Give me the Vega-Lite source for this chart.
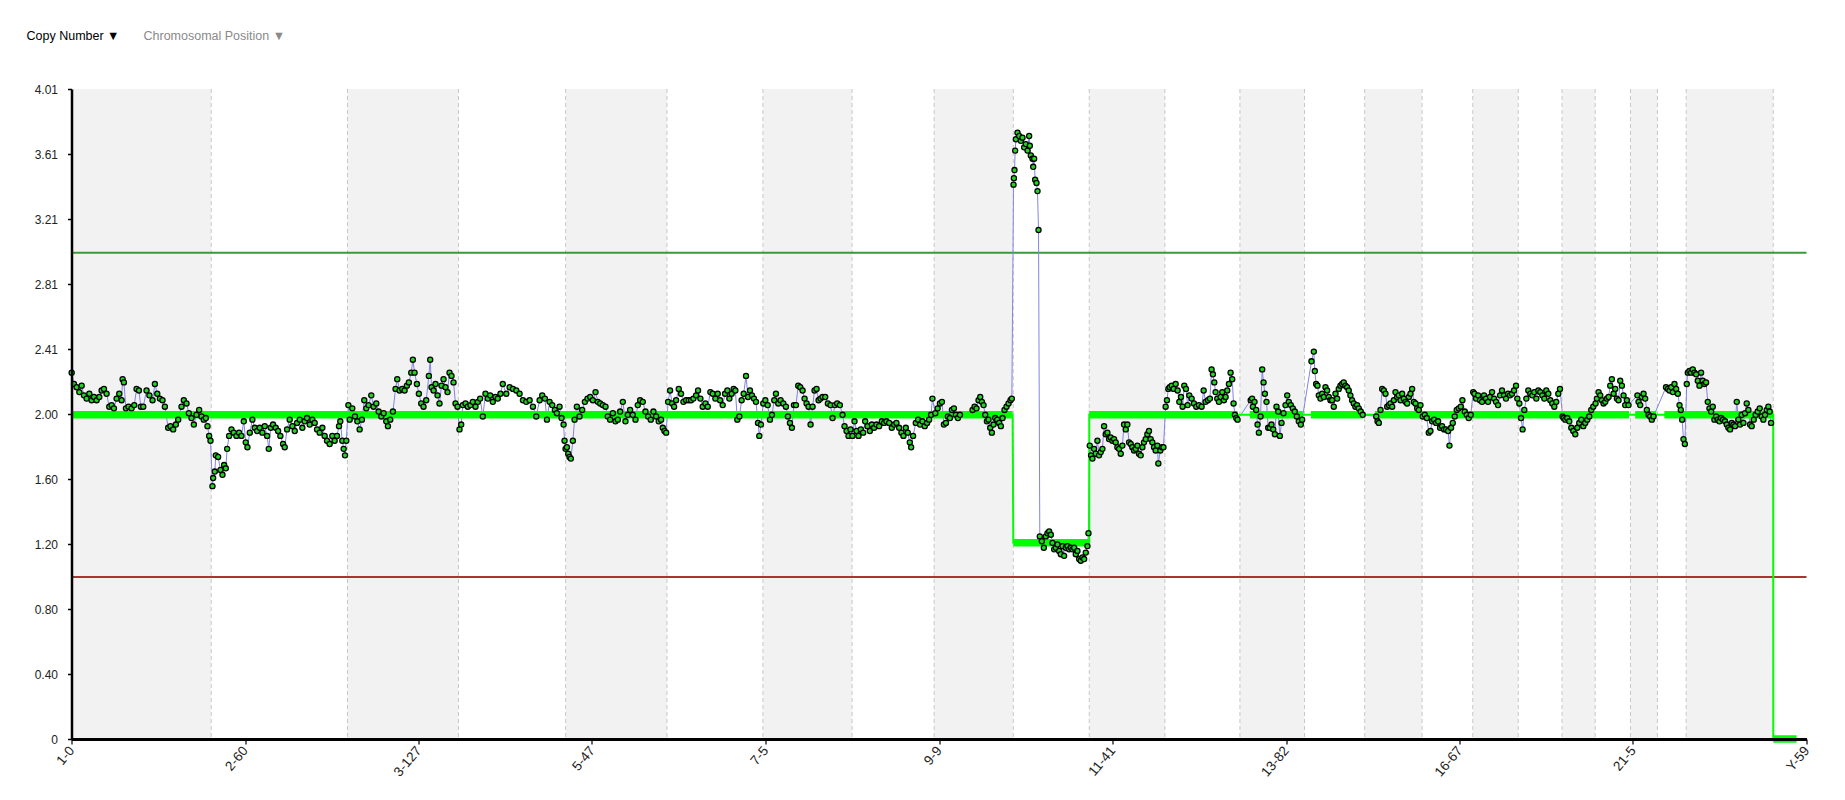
{
"$schema": "https://vega.github.io/schema/vega-lite/v6.json",
"width": 1735, "height": 650,
"autosize": {"type": "none"},
"padding": {"left": 71.5, "top": 89, "right": 38.5, "bottom": 61},
"background": "white",
"config": {"font": "Liberation Sans", "view": {"stroke": null}},
"datasets": {
"chroms": [
{"n":1,"chr":"1","start":0,"end":249.25},{"n":2,"chr":"2","start":249.25,"end":492.45},{"n":3,"chr":"3","start":492.45,"end":690.47},{"n":4,"chr":"4","start":690.47,"end":881.62},{"n":5,"chr":"5","start":881.62,"end":1062.54},{"n":6,"chr":"6","start":1062.54,"end":1233.66},{"n":7,"chr":"7","start":1233.66,"end":1392.8},{"n":8,"chr":"8","start":1392.8,"end":1539.16},{"n":9,"chr":"9","start":1539.16,"end":1680.37},{"n":10,"chr":"10","start":1680.37,"end":1815.9},{"n":11,"chr":"11","start":1815.9,"end":1950.91},{"n":12,"chr":"12","start":1950.91,"end":2084.76},{"n":13,"chr":"13","start":2084.76,"end":2199.93},{"n":14,"chr":"14","start":2199.93,"end":2307.28},{"n":15,"chr":"15","start":2307.28,"end":2409.81},{"n":16,"chr":"16","start":2409.81,"end":2500.16},{"n":17,"chr":"17","start":2500.16,"end":2581.36},{"n":18,"chr":"18","start":2581.36,"end":2659.44},{"n":19,"chr":"19","start":2659.44,"end":2718.57},{"n":20,"chr":"20","start":2718.57,"end":2781.6},{"n":21,"chr":"21","start":2781.6,"end":2829.73},{"n":22,"chr":"22","start":2829.73,"end":2881.03},{"n":23,"chr":"X","start":2881.03,"end":3036.3},{"n":24,"chr":"Y","start":3036.3,"end":3095.67}
],
"thresholds": [{"level":3,"kind":"gain"},{"level":1,"kind":"loss"}],
"segments": [
{"start":0,"end":1679.2,"cn":2.0},{"start":1680.4,"end":1815.9,"cn":1.21},{"start":1815.95,"end":2080.5,"cn":2.0},{"start":2102.5,"end":2197,"cn":2.0},{"start":2211.5,"end":2305,"cn":2.0},{"start":2326,"end":2779,"cn":2.0},{"start":2790,"end":2827.5,"cn":2.0},{"start":2842,"end":3036.3,"cn":2.0},{"start":3036.4,"end":3078,"cn":0}
],
"probes": [
{"pos":0.3,"cn":2.26},{"pos":4.4,"cn":2.19},{"pos":9.2,"cn":2.17},{"pos":14,"cn":2.14},{"pos":18.1,"cn":2.18},{"pos":22.2,"cn":2.12},{"pos":27,"cn":2.10},{"pos":31.8,"cn":2.13},{"pos":35.9,"cn":2.09},{"pos":40.1,"cn":2.11},{"pos":44.8,"cn":2.09},{"pos":49.6,"cn":2.11},{"pos":53.7,"cn":2.15},{"pos":57.9,"cn":2.16},{"pos":62.6,"cn":2.13},{"pos":67.4,"cn":2.05},{"pos":71.6,"cn":2.06},{"pos":75.7,"cn":2.04},{"pos":80.5,"cn":2.10},{"pos":85.2,"cn":2.13},{"pos":89.4,"cn":2.09},{"pos":91.2,"cn":2.22},{"pos":93.5,"cn":2.20},{"pos":97.1,"cn":2.04},{"pos":101.8,"cn":2.05},{"pos":107.2,"cn":2.04},{"pos":112,"cn":2.06},{"pos":116.1,"cn":2.16},{"pos":120.3,"cn":2.15},{"pos":123.8,"cn":2.05},{"pos":128,"cn":2.05},{"pos":133.9,"cn":2.15},{"pos":139,"cn":2.12},{"pos":144.6,"cn":2.09},{"pos":148.8,"cn":2.19},{"pos":153,"cn":2.13},{"pos":157.7,"cn":2.10},{"pos":162.4,"cn":2.09},{"pos":166.6,"cn":2.05},{"pos":172.5,"cn":1.92},{"pos":176.7,"cn":1.93},{"pos":181.4,"cn":1.91},{"pos":186.2,"cn":1.94},{"pos":190.4,"cn":1.97},{"pos":196.3,"cn":2.05},{"pos":200.4,"cn":2.09},{"pos":205.2,"cn":2.07},{"pos":209.4,"cn":2.01},{"pos":214.1,"cn":1.98},{"pos":218.3,"cn":1.94},{"pos":223,"cn":2.00},{"pos":227.8,"cn":2.03},{"pos":232,"cn":1.99},{"pos":236.1,"cn":1.97},{"pos":239.7,"cn":1.98},{"pos":242.6,"cn":1.93},{"pos":245.6,"cn":1.87},{"pos":248,"cn":1.84},
{"pos":251.5,"cn":1.56},{"pos":252.7,"cn":1.61},{"pos":255.7,"cn":1.65},{"pos":257.5,"cn":1.75},{"pos":261.6,"cn":1.74},{"pos":265.8,"cn":1.66},{"pos":269.4,"cn":1.63},{"pos":272.3,"cn":1.69},{"pos":275.3,"cn":1.67},{"pos":277.7,"cn":1.79},{"pos":281.2,"cn":1.87},{"pos":285.4,"cn":1.91},{"pos":289.5,"cn":1.89},{"pos":294.3,"cn":1.87},{"pos":299,"cn":1.89},{"pos":303.2,"cn":1.87},{"pos":307.4,"cn":1.96},{"pos":310.9,"cn":1.83},{"pos":313.9,"cn":1.80},{"pos":318.1,"cn":1.89},{"pos":322.8,"cn":1.97},{"pos":327,"cn":1.92},{"pos":331.1,"cn":1.90},{"pos":335.9,"cn":1.92},{"pos":340.6,"cn":1.89},{"pos":344.8,"cn":1.93},{"pos":349,"cn":1.87},{"pos":352,"cn":1.79},{"pos":355.5,"cn":1.92},{"pos":359.6,"cn":1.94},{"pos":364.4,"cn":1.92},{"pos":368.6,"cn":1.90},{"pos":372.7,"cn":1.87},{"pos":377.5,"cn":1.82},{"pos":380.4,"cn":1.80},{"pos":384.6,"cn":1.91},{"pos":389.3,"cn":1.97},{"pos":394.1,"cn":1.93},{"pos":398.3,"cn":1.90},{"pos":402.4,"cn":1.95},{"pos":407.2,"cn":1.97},{"pos":411.9,"cn":1.92},{"pos":416.1,"cn":1.96},{"pos":420.2,"cn":1.98},{"pos":425,"cn":1.94},{"pos":429.7,"cn":1.97},{"pos":433.9,"cn":1.95},{"pos":438.1,"cn":1.91},{"pos":442.8,"cn":1.89},{"pos":447.6,"cn":1.92},{"pos":451.7,"cn":1.87},{"pos":455.9,"cn":1.84},{"pos":460.6,"cn":1.82},{"pos":465.4,"cn":1.87},{"pos":469.5,"cn":1.84},{"pos":473.7,"cn":1.87},{"pos":477.3,"cn":1.93},{"pos":479.6,"cn":1.96},{"pos":483.2,"cn":1.84},{"pos":485.6,"cn":1.79},{"pos":488,"cn":1.75},{"pos":490.3,"cn":1.84},
{"pos":494,"cn":2.06},{"pos":496.3,"cn":1.97},{"pos":501,"cn":2.04},{"pos":505.8,"cn":1.99},{"pos":510,"cn":1.96},{"pos":514.1,"cn":1.91},{"pos":518.2,"cn":1.97},{"pos":522.4,"cn":2.09},{"pos":526,"cn":2.04},{"pos":530.1,"cn":2.06},{"pos":534.9,"cn":2.12},{"pos":539,"cn":2.05},{"pos":543.8,"cn":2.07},{"pos":548,"cn":2.02},{"pos":552.7,"cn":1.99},{"pos":556.9,"cn":2.01},{"pos":561.6,"cn":1.96},{"pos":564.6,"cn":1.93},{"pos":568.7,"cn":1.97},{"pos":573.5,"cn":2.02},{"pos":578.2,"cn":2.16},{"pos":581.2,"cn":2.22},{"pos":585.4,"cn":2.15},{"pos":590.1,"cn":2.16},{"pos":594.3,"cn":2.15},{"pos":598.4,"cn":2.18},{"pos":602,"cn":2.20},{"pos":606.2,"cn":2.26},{"pos":609.1,"cn":2.34},{"pos":612.1,"cn":2.26},{"pos":616.3,"cn":2.19},{"pos":619.8,"cn":2.13},{"pos":624,"cn":2.07},{"pos":628.1,"cn":2.05},{"pos":632.9,"cn":2.09},{"pos":637.6,"cn":2.24},{"pos":640,"cn":2.34},{"pos":642.4,"cn":2.17},{"pos":646,"cn":2.15},{"pos":649.5,"cn":2.19},{"pos":653.1,"cn":2.12},{"pos":656.6,"cn":2.07},{"pos":660.2,"cn":2.18},{"pos":663.8,"cn":2.22},{"pos":667.3,"cn":2.17},{"pos":670.9,"cn":2.14},{"pos":674.5,"cn":2.26},{"pos":678,"cn":2.24},{"pos":681.6,"cn":2.20},{"pos":685.2,"cn":2.07},{"pos":688.7,"cn":2.05},
{"pos":692.3,"cn":1.91},{"pos":695.3,"cn":1.94},{"pos":698.2,"cn":2.06},{"pos":703,"cn":2.07},{"pos":707.1,"cn":2.05},{"pos":711.9,"cn":2.06},{"pos":716,"cn":2.08},{"pos":720.8,"cn":2.05},{"pos":725,"cn":2.08},{"pos":729.1,"cn":2.10},{"pos":733.9,"cn":1.99},{"pos":738.6,"cn":2.13},{"pos":742.8,"cn":2.10},{"pos":747,"cn":2.12},{"pos":751.7,"cn":2.08},{"pos":756.4,"cn":2.11},{"pos":760.6,"cn":2.10},{"pos":765.4,"cn":2.13},{"pos":769.5,"cn":2.19},{"pos":775.8,"cn":2.13},{"pos":781.7,"cn":2.17},{"pos":787.7,"cn":2.16},{"pos":793.6,"cn":2.15},{"pos":799.5,"cn":2.13},{"pos":805.5,"cn":2.09},{"pos":811.4,"cn":2.08},{"pos":817.4,"cn":2.09},{"pos":823.3,"cn":2.05},{"pos":829.2,"cn":1.99},{"pos":835.2,"cn":2.09},{"pos":839.9,"cn":2.12},{"pos":844.7,"cn":2.10},{"pos":848.3,"cn":1.97},{"pos":853,"cn":2.08},{"pos":857.8,"cn":2.06},{"pos":862.5,"cn":2.03},{"pos":866.1,"cn":2.01},{"pos":870.8,"cn":2.05},{"pos":874.4,"cn":1.98},{"pos":878,"cn":1.94},{"pos":879.7,"cn":1.84},{"pos":881.5,"cn":1.79},
{"pos":883.9,"cn":1.80},{"pos":886.3,"cn":1.76},{"pos":888.6,"cn":1.74},{"pos":891,"cn":1.73},{"pos":894.6,"cn":1.84},{"pos":897.6,"cn":1.97},{"pos":901.7,"cn":2.05},{"pos":906.5,"cn":1.99},{"pos":911.2,"cn":2.03},{"pos":916,"cn":2.08},{"pos":920.7,"cn":2.10},{"pos":925.5,"cn":2.11},{"pos":930.2,"cn":2.09},{"pos":935,"cn":2.14},{"pos":939.1,"cn":2.08},{"pos":943.3,"cn":2.07},{"pos":948,"cn":2.06},{"pos":952.8,"cn":2.05},{"pos":956.9,"cn":1.99},{"pos":961.1,"cn":1.97},{"pos":965.9,"cn":2.01},{"pos":970.6,"cn":1.96},{"pos":974.8,"cn":1.97},{"pos":978.9,"cn":2.02},{"pos":983.7,"cn":2.08},{"pos":988.4,"cn":1.96},{"pos":992.6,"cn":2.00},{"pos":996.7,"cn":2.03},{"pos":1001.5,"cn":2.00},{"pos":1006.3,"cn":1.97},{"pos":1010.4,"cn":2.06},{"pos":1014.6,"cn":2.09},{"pos":1019.3,"cn":2.08},{"pos":1024.1,"cn":2.02},{"pos":1028.8,"cn":1.99},{"pos":1033.6,"cn":1.97},{"pos":1038.3,"cn":2.02},{"pos":1043.1,"cn":1.99},{"pos":1047.8,"cn":1.96},{"pos":1052,"cn":1.97},{"pos":1055,"cn":1.92},{"pos":1058,"cn":1.90},{"pos":1061,"cn":1.89},
{"pos":1064.5,"cn":2.08},{"pos":1068,"cn":2.15},{"pos":1071.6,"cn":2.07},{"pos":1075.2,"cn":2.05},{"pos":1078.7,"cn":2.09},{"pos":1083.5,"cn":2.16},{"pos":1087.6,"cn":2.13},{"pos":1091.8,"cn":2.08},{"pos":1096.5,"cn":2.09},{"pos":1101.3,"cn":2.09},{"pos":1105.5,"cn":2.09},{"pos":1109.6,"cn":2.10},{"pos":1114.4,"cn":2.12},{"pos":1117.9,"cn":2.15},{"pos":1122.1,"cn":2.10},{"pos":1126.2,"cn":2.05},{"pos":1131,"cn":2.07},{"pos":1135.2,"cn":2.05},{"pos":1139.9,"cn":2.14},{"pos":1144.1,"cn":2.13},{"pos":1148.8,"cn":2.10},{"pos":1153,"cn":2.13},{"pos":1157.2,"cn":2.09},{"pos":1161.9,"cn":2.06},{"pos":1166.1,"cn":2.13},{"pos":1170.2,"cn":2.15},{"pos":1173.8,"cn":2.10},{"pos":1177.9,"cn":2.13},{"pos":1181.5,"cn":2.16},{"pos":1184.5,"cn":2.15},{"pos":1188,"cn":1.97},{"pos":1191.6,"cn":1.99},{"pos":1195.7,"cn":2.09},{"pos":1199.3,"cn":2.13},{"pos":1203.5,"cn":2.24},{"pos":1207,"cn":2.11},{"pos":1210.6,"cn":2.15},{"pos":1214.2,"cn":2.12},{"pos":1217.7,"cn":2.10},{"pos":1221.3,"cn":2.08},{"pos":1224.9,"cn":1.95},{"pos":1227.2,"cn":1.87},{"pos":1230.2,"cn":1.94},
{"pos":1234.3,"cn":2.07},{"pos":1237.9,"cn":2.09},{"pos":1242.1,"cn":2.06},{"pos":1246.2,"cn":1.97},{"pos":1249.8,"cn":2.00},{"pos":1253.9,"cn":2.09},{"pos":1256.9,"cn":2.13},{"pos":1261.1,"cn":2.07},{"pos":1265.2,"cn":2.09},{"pos":1270,"cn":2.07},{"pos":1274.7,"cn":2.05},{"pos":1278.3,"cn":1.99},{"pos":1281.9,"cn":1.95},{"pos":1285.4,"cn":1.92},{"pos":1289,"cn":2.06},{"pos":1292.6,"cn":2.06},{"pos":1296.7,"cn":2.18},{"pos":1300.3,"cn":2.17},{"pos":1304.4,"cn":2.15},{"pos":1308,"cn":2.10},{"pos":1311.6,"cn":2.07},{"pos":1315.1,"cn":2.05},{"pos":1318.7,"cn":1.94},{"pos":1322.3,"cn":2.05},{"pos":1325.8,"cn":2.15},{"pos":1329.4,"cn":2.16},{"pos":1333,"cn":2.09},{"pos":1336.5,"cn":2.10},{"pos":1340.1,"cn":2.11},{"pos":1344.8,"cn":2.11},{"pos":1349.6,"cn":2.07},{"pos":1354.3,"cn":2.06},{"pos":1357.9,"cn":1.98},{"pos":1362.1,"cn":2.06},{"pos":1366.2,"cn":2.07},{"pos":1371,"cn":2.06},{"pos":1375.7,"cn":2.00},{"pos":1379.3,"cn":1.93},{"pos":1382.9,"cn":1.90},{"pos":1386.4,"cn":1.87},{"pos":1390,"cn":1.91},
{"pos":1393.5,"cn":1.87},{"pos":1397.1,"cn":1.96},{"pos":1400.7,"cn":1.90},{"pos":1404.2,"cn":1.87},{"pos":1408.4,"cn":1.91},{"pos":1412.5,"cn":1.89},{"pos":1416.1,"cn":1.96},{"pos":1420.3,"cn":1.93},{"pos":1424.4,"cn":1.90},{"pos":1428,"cn":1.94},{"pos":1432.1,"cn":1.92},{"pos":1436.3,"cn":1.94},{"pos":1441,"cn":1.93},{"pos":1445.8,"cn":1.96},{"pos":1449.9,"cn":1.95},{"pos":1454.1,"cn":1.96},{"pos":1458.9,"cn":1.95},{"pos":1463.6,"cn":1.92},{"pos":1467.8,"cn":1.94},{"pos":1471.9,"cn":1.95},{"pos":1476.7,"cn":1.92},{"pos":1480.8,"cn":1.89},{"pos":1484.4,"cn":1.87},{"pos":1488.6,"cn":1.92},{"pos":1492.1,"cn":1.89},{"pos":1495.7,"cn":1.83},{"pos":1498.1,"cn":1.80},{"pos":1501.6,"cn":1.87},{"pos":1506.4,"cn":1.95},{"pos":1510.5,"cn":1.97},{"pos":1514.1,"cn":1.94},{"pos":1518.3,"cn":1.96},{"pos":1522.4,"cn":1.93},{"pos":1526.6,"cn":1.95},{"pos":1530.2,"cn":1.97},{"pos":1533.7,"cn":2.00},{"pos":1536.1,"cn":2.10},
{"pos":1541.2,"cn":2.01},{"pos":1545.4,"cn":2.04},{"pos":1549.5,"cn":2.07},{"pos":1553.1,"cn":2.08},{"pos":1556.6,"cn":1.94},{"pos":1560.2,"cn":1.95},{"pos":1563.8,"cn":1.99},{"pos":1567.3,"cn":1.98},{"pos":1570.9,"cn":2.03},{"pos":1574.5,"cn":2.04},{"pos":1578,"cn":2.00},{"pos":1581.6,"cn":1.98},{"pos":1585.2,"cn":2.00},{"pos":1607.7,"cn":2.03},{"pos":1611.3,"cn":2.05},{"pos":1614.8,"cn":2.04},{"pos":1618.4,"cn":2.09},{"pos":1621.4,"cn":2.11},{"pos":1624.4,"cn":2.08},{"pos":1627.3,"cn":2.06},{"pos":1630.3,"cn":2.00},{"pos":1633.3,"cn":1.96},{"pos":1636.2,"cn":1.97},{"pos":1639.2,"cn":1.92},{"pos":1642.2,"cn":1.89},{"pos":1645.1,"cn":1.94},{"pos":1648.1,"cn":1.98},{"pos":1651.7,"cn":1.97},{"pos":1655.2,"cn":1.95},{"pos":1658.2,"cn":1.93},{"pos":1661.2,"cn":1.98},{"pos":1664.7,"cn":2.03},{"pos":1668.3,"cn":2.05},{"pos":1671.9,"cn":2.07},{"pos":1675.4,"cn":2.09},{"pos":1677.8,"cn":2.10},
{"pos":1680.8,"cn":3.42},{"pos":1681.5,"cn":3.46},{"pos":1682.6,"cn":3.51},{"pos":1683.8,"cn":3.63},{"pos":1685,"cn":3.70},{"pos":1687.9,"cn":3.74},{"pos":1690.9,"cn":3.72},{"pos":1693.9,"cn":3.69},{"pos":1696.8,"cn":3.71},{"pos":1699.8,"cn":3.65},{"pos":1702.8,"cn":3.67},{"pos":1705.8,"cn":3.63},{"pos":1708.7,"cn":3.72},{"pos":1709.9,"cn":3.66},{"pos":1711.7,"cn":3.60},{"pos":1714.7,"cn":3.58},{"pos":1715.9,"cn":3.53},{"pos":1717.6,"cn":3.58},{"pos":1719.4,"cn":3.45},{"pos":1721.8,"cn":3.43},{"pos":1723.6,"cn":3.38},{"pos":1725.4,"cn":3.14},
{"pos":1727.7,"cn":1.25},{"pos":1731.3,"cn":1.22},{"pos":1734.9,"cn":1.18},{"pos":1738.4,"cn":1.25},{"pos":1741.4,"cn":1.27},{"pos":1744.4,"cn":1.28},{"pos":1747.4,"cn":1.26},{"pos":1750.3,"cn":1.21},{"pos":1753.3,"cn":1.17},{"pos":1756.3,"cn":1.18},{"pos":1759.2,"cn":1.20},{"pos":1762.2,"cn":1.16},{"pos":1765.2,"cn":1.14},{"pos":1768.2,"cn":1.19},{"pos":1771.1,"cn":1.13},{"pos":1774.1,"cn":1.18},{"pos":1777.1,"cn":1.19},{"pos":1780,"cn":1.17},{"pos":1783,"cn":1.18},{"pos":1786,"cn":1.17},{"pos":1789,"cn":1.18},{"pos":1791.9,"cn":1.14},{"pos":1794.9,"cn":1.16},{"pos":1797.9,"cn":1.11},{"pos":1800.8,"cn":1.10},{"pos":1803.8,"cn":1.12},{"pos":1806.8,"cn":1.11},{"pos":1809.7,"cn":1.15},{"pos":1812.7,"cn":1.19},{"pos":1814.5,"cn":1.27},
{"pos":1816.8,"cn":1.81},{"pos":1819.2,"cn":1.75},{"pos":1821.6,"cn":1.73},{"pos":1824.5,"cn":1.79},{"pos":1827.5,"cn":1.76},{"pos":1830.5,"cn":1.84},{"pos":1833.4,"cn":1.75},{"pos":1836.4,"cn":1.77},{"pos":1839.4,"cn":1.79},{"pos":1842.4,"cn":1.93},{"pos":1845.3,"cn":1.88},{"pos":1848.3,"cn":1.89},{"pos":1851.3,"cn":1.85},{"pos":1854.2,"cn":1.86},{"pos":1857.2,"cn":1.84},{"pos":1860.2,"cn":1.85},{"pos":1863.1,"cn":1.83},{"pos":1866.1,"cn":1.80},{"pos":1869.1,"cn":1.79},{"pos":1872.1,"cn":1.76},{"pos":1875,"cn":1.81},{"pos":1878,"cn":1.94},{"pos":1881,"cn":1.91},{"pos":1883.9,"cn":1.94},{"pos":1886.9,"cn":1.83},{"pos":1889.9,"cn":1.82},{"pos":1892.8,"cn":1.80},{"pos":1895.8,"cn":1.78},{"pos":1898.8,"cn":1.79},{"pos":1901.8,"cn":1.81},{"pos":1904.7,"cn":1.76},{"pos":1907.7,"cn":1.75},{"pos":1910.7,"cn":1.80},{"pos":1913.6,"cn":1.83},{"pos":1916.6,"cn":1.85},{"pos":1919.6,"cn":1.88},{"pos":1922.5,"cn":1.90},{"pos":1925.5,"cn":1.85},{"pos":1928.5,"cn":1.83},{"pos":1931.5,"cn":1.80},{"pos":1934.4,"cn":1.78},{"pos":1937.4,"cn":1.81},{"pos":1939.2,"cn":1.70},{"pos":1942.7,"cn":1.78},{"pos":1945.7,"cn":1.80},{"pos":1948.3,"cn":1.80},
{"pos":1952.2,"cn":2.05},{"pos":1954.6,"cn":2.09},{"pos":1957,"cn":2.16},{"pos":1959.4,"cn":2.17},{"pos":1963,"cn":2.18},{"pos":1966.5,"cn":2.16},{"pos":1970.1,"cn":2.19},{"pos":1973.6,"cn":2.15},{"pos":1976.6,"cn":2.08},{"pos":1979.6,"cn":2.11},{"pos":1982.5,"cn":2.05},{"pos":1985.5,"cn":2.18},{"pos":1988.5,"cn":2.16},{"pos":1991.4,"cn":2.06},{"pos":1994.4,"cn":2.12},{"pos":1998.6,"cn":2.10},{"pos":2002.7,"cn":2.07},{"pos":2006.9,"cn":2.05},{"pos":2011.6,"cn":2.06},{"pos":2016.4,"cn":2.05},{"pos":2020,"cn":2.15},{"pos":2023.5,"cn":2.08},{"pos":2027.7,"cn":2.09},{"pos":2031.2,"cn":2.10},{"pos":2034.2,"cn":2.28},{"pos":2036.6,"cn":2.25},{"pos":2039,"cn":2.20},{"pos":2041.3,"cn":2.14},{"pos":2044.3,"cn":2.10},{"pos":2047.3,"cn":2.08},{"pos":2050.3,"cn":2.11},{"pos":2053.2,"cn":2.14},{"pos":2056.2,"cn":2.09},{"pos":2059.2,"cn":2.11},{"pos":2062.1,"cn":2.15},{"pos":2065.1,"cn":2.19},{"pos":2068.1,"cn":2.26},{"pos":2071,"cn":2.22},{"pos":2073.4,"cn":2.07},{"pos":2075.8,"cn":2.00},{"pos":2078.2,"cn":1.98},{"pos":2080.5,"cn":1.97},
{"pos":2104,"cn":2.09},{"pos":2106.5,"cn":2.10},{"pos":2107.9,"cn":2.05},{"pos":2110.8,"cn":2.08},{"pos":2113.8,"cn":2.03},{"pos":2116.2,"cn":1.94},{"pos":2118.6,"cn":1.89},{"pos":2121.5,"cn":1.99},{"pos":2124.5,"cn":2.28},{"pos":2126.9,"cn":2.20},{"pos":2129.3,"cn":2.13},{"pos":2132.2,"cn":2.08},{"pos":2135.2,"cn":1.92},{"pos":2138.2,"cn":1.92},{"pos":2141.1,"cn":1.94},{"pos":2144.1,"cn":1.91},{"pos":2147.1,"cn":1.88},{"pos":2150,"cn":2.05},{"pos":2153,"cn":2.02},{"pos":2156,"cn":1.87},{"pos":2159,"cn":1.95},{"pos":2162.5,"cn":2.01},{"pos":2166.1,"cn":2.06},{"pos":2169.1,"cn":2.12},{"pos":2172,"cn":2.08},{"pos":2175.6,"cn":2.06},{"pos":2179.1,"cn":2.04},{"pos":2182.7,"cn":2.02},{"pos":2186.3,"cn":1.99},{"pos":2189.8,"cn":1.96},{"pos":2193.4,"cn":1.94},{"pos":2195.8,"cn":1.97},
{"pos":2212.4,"cn":2.33},{"pos":2216.6,"cn":2.39},{"pos":2218.4,"cn":2.27},{"pos":2220.7,"cn":2.19},{"pos":2223.1,"cn":2.18},{"pos":2225.5,"cn":2.12},{"pos":2228.5,"cn":2.10},{"pos":2231.4,"cn":2.13},{"pos":2234.4,"cn":2.11},{"pos":2237.4,"cn":2.17},{"pos":2240.3,"cn":2.15},{"pos":2243.3,"cn":2.11},{"pos":2246.3,"cn":2.09},{"pos":2249.2,"cn":2.09},{"pos":2252.2,"cn":2.05},{"pos":2255.2,"cn":2.13},{"pos":2258.2,"cn":2.10},{"pos":2261.1,"cn":2.16},{"pos":2264.1,"cn":2.18},{"pos":2267.1,"cn":2.19},{"pos":2270,"cn":2.20},{"pos":2273,"cn":2.18},{"pos":2276,"cn":2.17},{"pos":2278.9,"cn":2.15},{"pos":2281.9,"cn":2.12},{"pos":2284.9,"cn":2.09},{"pos":2287.9,"cn":2.07},{"pos":2290.8,"cn":2.05},{"pos":2293.8,"cn":2.06},{"pos":2296.8,"cn":2.04},{"pos":2300.3,"cn":2.02},{"pos":2303.9,"cn":2.00},
{"pos":2327.9,"cn":1.99},{"pos":2330.3,"cn":1.96},{"pos":2332.6,"cn":1.95},{"pos":2335.6,"cn":2.03},{"pos":2338.6,"cn":2.16},{"pos":2341.6,"cn":2.15},{"pos":2344.5,"cn":2.13},{"pos":2347.5,"cn":2.05},{"pos":2350.5,"cn":2.06},{"pos":2353.4,"cn":2.07},{"pos":2356.4,"cn":2.05},{"pos":2359.4,"cn":2.09},{"pos":2362.3,"cn":2.14},{"pos":2365.3,"cn":2.11},{"pos":2368.3,"cn":2.12},{"pos":2371.3,"cn":2.09},{"pos":2374.2,"cn":2.13},{"pos":2377.2,"cn":2.10},{"pos":2380.2,"cn":2.08},{"pos":2383.1,"cn":2.07},{"pos":2386.1,"cn":2.11},{"pos":2389.1,"cn":2.13},{"pos":2392,"cn":2.16},{"pos":2395,"cn":2.08},{"pos":2398,"cn":2.07},{"pos":2401,"cn":2.04},{"pos":2403.9,"cn":2.03},{"pos":2406.9,"cn":2.06},
{"pos":2411,"cn":1.99},{"pos":2414.6,"cn":2.00},{"pos":2418.2,"cn":1.98},{"pos":2421.7,"cn":1.89},{"pos":2424.7,"cn":1.90},{"pos":2427.7,"cn":1.96},{"pos":2431.2,"cn":1.97},{"pos":2434.8,"cn":1.95},{"pos":2438.4,"cn":1.96},{"pos":2441.9,"cn":1.92},{"pos":2445.5,"cn":1.93},{"pos":2449.1,"cn":1.91},{"pos":2452.6,"cn":1.91},{"pos":2456.2,"cn":1.90},{"pos":2458.6,"cn":1.81},{"pos":2461.5,"cn":1.92},{"pos":2464.5,"cn":1.95},{"pos":2468.1,"cn":1.99},{"pos":2471.6,"cn":2.03},{"pos":2475.2,"cn":2.04},{"pos":2478.8,"cn":2.05},{"pos":2481.7,"cn":2.09},{"pos":2485.9,"cn":2.02},{"pos":2489.5,"cn":2.00},{"pos":2493,"cn":1.98},{"pos":2496.6,"cn":2.00},
{"pos":2501,"cn":2.14},{"pos":2503.1,"cn":2.13},{"pos":2506.1,"cn":2.10},{"pos":2509.7,"cn":2.12},{"pos":2513.2,"cn":2.09},{"pos":2516.8,"cn":2.08},{"pos":2520.3,"cn":2.12},{"pos":2523.9,"cn":2.10},{"pos":2527.5,"cn":2.08},{"pos":2531,"cn":2.11},{"pos":2534.6,"cn":2.14},{"pos":2538.2,"cn":2.10},{"pos":2541.7,"cn":2.08},{"pos":2545.3,"cn":2.06},{"pos":2548.9,"cn":2.12},{"pos":2552.4,"cn":2.15},{"pos":2556,"cn":2.12},{"pos":2559.5,"cn":2.10},{"pos":2563.1,"cn":2.13},{"pos":2566.7,"cn":2.12},{"pos":2570.2,"cn":2.13},{"pos":2573.8,"cn":2.15},{"pos":2577.4,"cn":2.18},{"pos":2579.7,"cn":2.10},
{"pos":2583.3,"cn":2.07},{"pos":2586.3,"cn":1.98},{"pos":2589.2,"cn":1.91},{"pos":2592.2,"cn":2.03},{"pos":2595.8,"cn":2.10},{"pos":2599.3,"cn":2.15},{"pos":2602.9,"cn":2.13},{"pos":2606.5,"cn":2.12},{"pos":2610,"cn":2.14},{"pos":2613.6,"cn":2.10},{"pos":2617.2,"cn":2.15},{"pos":2620.7,"cn":2.14},{"pos":2624.3,"cn":2.12},{"pos":2627.9,"cn":2.10},{"pos":2631.4,"cn":2.15},{"pos":2635,"cn":2.13},{"pos":2638.6,"cn":2.09},{"pos":2642.1,"cn":2.07},{"pos":2645.7,"cn":2.05},{"pos":2649.2,"cn":2.08},{"pos":2652.8,"cn":2.13},{"pos":2655.8,"cn":2.16},
{"pos":2660.5,"cn":1.99},{"pos":2662.3,"cn":1.98},{"pos":2665.3,"cn":1.97},{"pos":2668.8,"cn":1.98},{"pos":2672.4,"cn":1.96},{"pos":2676,"cn":1.92},{"pos":2679.5,"cn":1.90},{"pos":2683.1,"cn":1.88},{"pos":2686.7,"cn":1.92},{"pos":2690.2,"cn":1.95},{"pos":2693.8,"cn":1.97},{"pos":2697.4,"cn":1.93},{"pos":2700.9,"cn":1.95},{"pos":2704.5,"cn":1.97},{"pos":2708,"cn":1.99},{"pos":2711.6,"cn":2.03},{"pos":2715.2,"cn":2.05},
{"pos":2719.3,"cn":2.07},{"pos":2721.7,"cn":2.10},{"pos":2724.7,"cn":2.14},{"pos":2727.7,"cn":2.12},{"pos":2730.6,"cn":2.09},{"pos":2733.6,"cn":2.07},{"pos":2736.6,"cn":2.08},{"pos":2739.5,"cn":2.10},{"pos":2742.5,"cn":2.11},{"pos":2745.5,"cn":2.18},{"pos":2748.4,"cn":2.22},{"pos":2751.4,"cn":2.13},{"pos":2754.4,"cn":2.16},{"pos":2757.4,"cn":2.10},{"pos":2760.3,"cn":2.09},{"pos":2763.3,"cn":2.21},{"pos":2766.3,"cn":2.18},{"pos":2769.2,"cn":2.12},{"pos":2772.2,"cn":2.06},{"pos":2775.2,"cn":2.09},{"pos":2778.1,"cn":2.06},
{"pos":2794,"cn":2.12},{"pos":2796,"cn":2.08},{"pos":2799,"cn":2.06},{"pos":2801.9,"cn":2.11},{"pos":2804.9,"cn":2.13},{"pos":2807.8,"cn":2.10},{"pos":2810.8,"cn":2.03},{"pos":2813.8,"cn":2.00},{"pos":2816.8,"cn":1.99},{"pos":2819.7,"cn":1.97},{"pos":2822.7,"cn":1.99},
{"pos":2845,"cn":2.17},{"pos":2848.3,"cn":2.16},{"pos":2851.2,"cn":2.15},{"pos":2854.2,"cn":2.17},{"pos":2857.2,"cn":2.14},{"pos":2860.1,"cn":2.19},{"pos":2863.1,"cn":2.16},{"pos":2866.1,"cn":2.13},{"pos":2869.1,"cn":2.06},{"pos":2871.4,"cn":2.03},{"pos":2873.8,"cn":1.97},{"pos":2876.2,"cn":1.85},{"pos":2878.6,"cn":1.82},
{"pos":2882,"cn":2.19},{"pos":2883.9,"cn":2.26},{"pos":2886.8,"cn":2.27},{"pos":2889.8,"cn":2.26},{"pos":2892.8,"cn":2.28},{"pos":2895.8,"cn":2.26},{"pos":2898.7,"cn":2.25},{"pos":2901.7,"cn":2.21},{"pos":2904.7,"cn":2.18},{"pos":2907.6,"cn":2.26},{"pos":2910.6,"cn":2.21},{"pos":2913.6,"cn":2.19},{"pos":2916.5,"cn":2.20},{"pos":2919.5,"cn":2.08},{"pos":2922.5,"cn":2.04},{"pos":2925.5,"cn":2.02},{"pos":2928.4,"cn":2.05},{"pos":2931.4,"cn":1.97},{"pos":2934.4,"cn":1.99},{"pos":2937.3,"cn":1.97},{"pos":2940.3,"cn":1.96},{"pos":2943.3,"cn":1.98},{"pos":2946.8,"cn":1.97},{"pos":2950.4,"cn":1.96},{"pos":2953.4,"cn":1.94},{"pos":2956.3,"cn":1.92},{"pos":2959.3,"cn":1.91},{"pos":2962.3,"cn":1.95},{"pos":2965.3,"cn":1.94},{"pos":2968.2,"cn":1.93},{"pos":2971.2,"cn":2.08},{"pos":2974.2,"cn":1.97},{"pos":2977.1,"cn":1.94},{"pos":2980.1,"cn":2.00},{"pos":2983.1,"cn":1.95},{"pos":2986,"cn":2.01},{"pos":2989,"cn":2.07},{"pos":2992,"cn":2.03},{"pos":2995,"cn":1.94},{"pos":2997.9,"cn":1.93},{"pos":3001.5,"cn":1.97},{"pos":3005,"cn":2.00},{"pos":3008.6,"cn":2.02},{"pos":3012.2,"cn":2.04},{"pos":3015.7,"cn":1.99},{"pos":3018.7,"cn":1.97},{"pos":3021.7,"cn":2.00},{"pos":3024.7,"cn":2.03},{"pos":3027.6,"cn":2.05},{"pos":3030,"cn":2.02},{"pos":3032.4,"cn":1.95}
]
},
"layer": [
{"data": {"name": "chroms"}, "transform": [{"filter": "datum.n % 2 == 1"}],
 "mark": {"type": "rect", "fill": "#f2f2f2"},
 "encoding": {"x": {"field": "start", "type": "quantitative", "scale": {"domain": [0, 3095.67], "nice": false, "zero": false}}, "x2": {"field": "end"}}},
{"data": {"name": "chroms"}, "transform": [{"filter": "datum.n < 24"}],
 "mark": {"type": "rule", "color": "#c8c8c8", "strokeWidth": 1, "strokeDash": [4, 3]},
 "encoding": {"x": {"field": "end", "type": "quantitative", "scale": {"domain": [0, 3095.67], "nice": false, "zero": false}}}},
{"data": {"name": "thresholds"},
 "mark": {"type": "rule", "strokeWidth": 2},
 "encoding": {"y": {"field": "level", "type": "quantitative", "scale": {"domain": [0, 4.01], "nice": false, "zero": false}},
   "color": {"field": "kind", "type": "nominal", "scale": {"domain": ["gain", "loss"], "range": ["#3a9a3a", "#a83434"]}, "legend": null}}},
{"data": {"name": "probes"},
 "mark": {"type": "line", "color": "#8484e4", "strokeWidth": 1},
 "encoding": {
   "x": {"field": "pos", "type": "quantitative", "scale": {"domain": [0, 3095.67], "nice": false, "zero": false},
     "axis": {"values": [0, 309.57, 619.13, 928.7, 1238.27, 1547.84, 1857.4, 2166.97, 2476.54, 2786.1, 3095.67],
       "labelExpr": "datum.value < 150 ? '1-0' : datum.value < 450 ? '2-60' : datum.value < 800 ? '3-127' : datum.value < 1100 ? '5-47' : datum.value < 1400 ? '7-5' : datum.value < 1700 ? '9-9' : datum.value < 2000 ? '11-41' : datum.value < 2300 ? '13-82' : datum.value < 2600 ? '16-67' : datum.value < 2900 ? '21-5' : 'Y-59'",
       "labelAngle": -50, "labelFontSize": 13.5, "labelColor": "#222222", "labelPadding": 4, "labelFlush": false, "labelOverlap": false, "labelBound": false,
       "domainColor": "#000000", "domainWidth": 3, "tickColor": "#000000", "tickSize": 5, "tickWidth": 1.2, "grid": false, "zindex": 1,
       "title": "Chromosomal Position   ▼", "titleX": 71.5, "titleY": -704, "titleAlign": "left", "titleBaseline": "middle", "titleAngle": 0,
       "titleFontSize": 12.5, "titleFontWeight": "normal", "titleColor": "#8a8a8a"}},
   "y": {"field": "cn", "type": "quantitative", "scale": {"domain": [0, 4.01], "nice": false, "zero": false},
     "axis": {"values": [0, 0.401, 0.802, 1.203, 1.604, 2.005, 2.406, 2.807, 3.208, 3.609, 4.01],
       "labelExpr": "datum.value == 0 ? '0' : format(datum.value, '.2f')",
       "labelFontSize": 12, "labelColor": "#222222", "labelPadding": 10, "labelFlush": false,
       "domainColor": "#000000", "domainWidth": 2.5, "tickColor": "#000000", "tickSize": 4, "tickWidth": 1.5, "grid": false, "zindex": 1,
       "title": "Copy Number   ▼", "titleX": -45.5, "titleY": -54, "titleAlign": "left", "titleBaseline": "middle", "titleAngle": 0,
       "titleFontSize": 12.5, "titleFontWeight": "normal", "titleColor": "#000000"}}}},
{"data": {"name": "segments"},
 "transform": [{"fold": ["start", "end"], "as": ["edge", "x"]}],
 "mark": {"type": "line", "color": "#00ff00", "strokeWidth": 2},
 "encoding": {"x": {"field": "x", "type": "quantitative", "scale": {"domain": [0, 3095.67], "nice": false, "zero": false}},
   "y": {"field": "cn", "type": "quantitative", "scale": {"domain": [0, 4.01], "nice": false, "zero": false}}}},
{"data": {"name": "segments"},
 "mark": {"type": "rule", "color": "#00ff00", "strokeWidth": 7.5, "strokeCap": "butt"},
 "encoding": {"x": {"field": "start", "type": "quantitative", "scale": {"domain": [0, 3095.67], "nice": false, "zero": false}},
   "x2": {"field": "end"},
   "y": {"field": "cn", "type": "quantitative", "scale": {"domain": [0, 4.01], "nice": false, "zero": false}}}},
{"data": {"name": "probes"},
 "mark": {"type": "point", "shape": "circle", "filled": true, "fill": "#1ed81e", "stroke": "#000000", "strokeWidth": 1.3, "size": 26, "opacity": 1},
 "encoding": {"x": {"field": "pos", "type": "quantitative", "scale": {"domain": [0, 3095.67], "nice": false, "zero": false}},
   "y": {"field": "cn", "type": "quantitative", "scale": {"domain": [0, 4.01], "nice": false, "zero": false}}}}
]
}
